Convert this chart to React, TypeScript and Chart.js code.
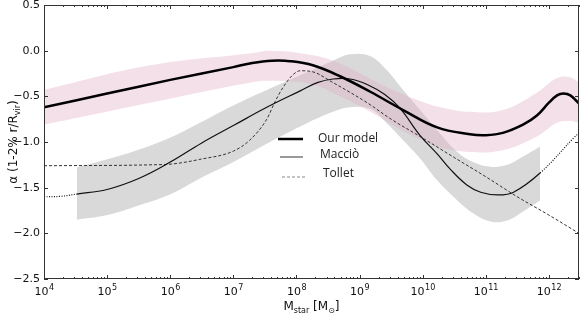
import React, { useEffect, useRef } from 'react';
import { Chart, registerables } from 'chart.js';

Chart.register(...registerables);

// ---- axis ranges (x is log10 of stellar mass) ----
const X_MIN = 4;
const X_MAX = Math.log10(3e12);
const Y_MIN = -2.5;
const Y_MAX = 0.5;

const xTickExponents = [4, 5, 6, 7, 8, 9, 10, 11, 12];
const yTickValues = [-2.5, -2.0, -1.5, -1.0, -0.5, 0.0, 0.5];

// ---- Our model (thick line) ----
const modelLogM = [4.0, 5.0, 6.0, 7.0, 7.3, 7.61, 7.9, 8.26, 8.69, 9.17, 9.69, 10.23, 10.75, 11.0, 11.27, 11.59, 11.81, 12.0, 12.13, 12.23, 12.34, 12.477];
const modelAlpha = [-0.62, -0.47, -0.32, -0.18, -0.135, -0.11, -0.115, -0.16, -0.28, -0.45, -0.65, -0.84, -0.915, -0.925, -0.9, -0.81, -0.71, -0.57, -0.49, -0.47, -0.49, -0.58];

// ---- Our model band (pink) ----
const pinkLogM = [4.0, 5.68, 7.26, 7.61, 8.26, 8.69, 9.17, 9.69, 9.96, 10.23, 10.75, 11.27, 11.81, 12.13, 12.34, 12.477];
const pinkUpper = [-0.43, -0.16, -0.03, 0.0, -0.05, -0.14, -0.31, -0.48, -0.55, -0.61, -0.67, -0.65, -0.46, -0.3, -0.29, -0.35];
const pinkLower = [-0.81, -0.57, -0.35, -0.33, -0.37, -0.5, -0.67, -0.88, -0.97, -1.05, -1.11, -1.09, -0.94, -0.79, -0.77, -0.79];

// ---- Macciò (thin line; dotted outside its fitted range) ----
const maccioLogM = [4.0, 4.26, 4.52, 5.0, 5.5, 6.0, 6.5, 7.0, 7.53, 8.06, 8.33, 8.58, 8.85, 9.12, 9.4, 9.64, 9.96, 10.23, 10.44, 10.7, 10.92, 11.19, 11.44, 11.86, 12.4, 12.477];
const maccioAlpha = [-1.6, -1.595, -1.57, -1.52, -1.4, -1.22, -1.01, -0.82, -0.62, -0.44, -0.35, -0.31, -0.31, -0.37, -0.48, -0.63, -0.93, -1.13, -1.3, -1.47, -1.55, -1.58, -1.55, -1.34, -0.95, -0.9];
const maccioFitMin = 4.52;
const maccioFitMax = 11.86;

// ---- Macciò band (gray) ----
const grayLogM = [4.52, 5.0, 5.52, 6.04, 6.47, 7.0, 7.53, 8.06, 8.58, 8.85, 9.17, 9.44, 9.69, 9.96, 10.23, 10.55, 10.8, 11.07, 11.34, 11.59, 11.86];
const grayUpper = [-1.28, -1.19, -1.08, -0.94, -0.79, -0.6, -0.43, -0.27, -0.11, -0.04, -0.06, -0.22, -0.43, -0.65, -0.87, -1.11, -1.22, -1.27, -1.25, -1.16, -1.05];
const grayLower = [-1.85, -1.8, -1.69, -1.56, -1.4, -1.22, -1.02, -0.83, -0.67, -0.62, -0.64, -0.8, -0.98, -1.18, -1.42, -1.64, -1.78, -1.87, -1.86, -1.76, -1.64];

// ---- Tollet (dashed) ----
const tolletLogM = [4.0, 5.68, 6.04, 6.47, 7.0, 7.26, 7.53, 7.66, 7.79, 7.95, 8.06, 8.25, 8.58, 9.12, 9.5, 9.96, 10.5, 11.0, 11.5, 12.0, 12.477];
const tolletAlpha = [-1.26, -1.25, -1.24, -1.19, -1.1, -0.98, -0.75, -0.56, -0.4, -0.26, -0.22, -0.23, -0.35, -0.57, -0.75, -0.94, -1.17, -1.38, -1.6, -1.8, -2.0];

const legendLabels = ['Our model', 'Macciò', 'Tollet'];

const pts = (xs: number[], ys: number[]) => xs.map((x, i) => ({ x, y: ys[i] }));

const tickFont = '11px "DejaVu Sans"';
const supFont = '8px "DejaVu Sans"';
const titleFont = '12px "DejaVu Sans"';
const subFont = '8px "DejaVu Sans"';
const legendFont = '12px "Open Sans"';

const mplAxes = {
  id: 'mplAxes',
  afterDatasetsDraw(chart: any) {
    const { ctx, chartArea: a, scales } = chart;
    const xs = scales.x;
    const ys = scales.y;
    ctx.save();

    // frame
    ctx.strokeStyle = '#333';
    ctx.lineWidth = 1;
    ctx.setLineDash([]);
    ctx.strokeRect(a.left + 0.5, a.top + 0.5, a.right - a.left - 1, a.bottom - a.top - 1);

    // x ticks (major + minor), inward on bottom and top
    ctx.beginPath();
    for (let n = X_MIN; n <= 12; n++) {
      for (let k = 1; k <= 9; k++) {
        const v = n + Math.log10(k);
        if (v > X_MAX) continue;
        const px = Math.round(xs.getPixelForValue(v)) + 0.5;
        const len = k === 1 ? 4 : 2;
        ctx.moveTo(px, a.bottom);
        ctx.lineTo(px, a.bottom - len);
        ctx.moveTo(px, a.top);
        ctx.lineTo(px, a.top + len);
      }
    }
    // y ticks, inward on left and right
    for (const v of yTickValues) {
      const py = Math.round(ys.getPixelForValue(v)) + 0.5;
      ctx.moveTo(a.left, py);
      ctx.lineTo(a.left + 4, py);
      ctx.moveTo(a.right, py);
      ctx.lineTo(a.right - 4, py);
    }
    ctx.stroke();

    // y tick labels
    ctx.fillStyle = '#111';
    ctx.font = tickFont;
    ctx.textAlign = 'right';
    ctx.textBaseline = 'middle';
    for (const v of yTickValues) {
      const py = ys.getPixelForValue(v);
      ctx.fillText(v.toFixed(1).replace('-', '\u2212'), a.left - 4, py);
    }

    // x tick labels: 10^n
    ctx.textBaseline = 'alphabetic';
    ctx.textAlign = 'left';
    for (const e of xTickExponents) {
      const px = xs.getPixelForValue(e);
      ctx.font = tickFont;
      const wb = ctx.measureText('10').width;
      ctx.font = supFont;
      const es = String(e);
      const we = ctx.measureText(es).width;
      const x0 = px - (wb + we) / 2;
      ctx.font = tickFont;
      ctx.fillText('10', x0, 295);
      ctx.font = supFont;
      ctx.fillText(es, x0 + wb + 0.5, 290);
    }

    // x axis title: M_star [M_sun]
    {
      const parts: [string, string, number][] = [
        ['M', titleFont, 0],
        ['star', subFont, 3],
        [' [M', titleFont, 0],
        ['\u2299', subFont, 3],
        [']', titleFont, 0],
      ];
      let total = 0;
      for (const [t, f] of parts) { ctx.font = f; total += ctx.measureText(t).width; }
      let x = (a.left + a.right) / 2 - total / 2;
      for (const [t, f, dy] of parts) {
        ctx.font = f;
        ctx.fillText(t, x, 310 + dy);
        x += ctx.measureText(t).width;
      }
    }

    // y axis title: α (1-2% r/R_vir)
    {
      ctx.save();
      ctx.translate(17, (a.top + a.bottom) / 2);
      ctx.rotate(-Math.PI / 2);
      const parts: [string, string, number][] = [
        ['\u03b1 (1-2% r/R', titleFont, 0],
        ['vir', subFont, 3],
        [')', titleFont, 0],
      ];
      let total = 0;
      for (const [t, f] of parts) { ctx.font = f; total += ctx.measureText(t).width; }
      let x = -total / 2;
      for (const [t, f, dy] of parts) {
        ctx.font = f;
        ctx.fillText(t, x, 0 + dy);
        x += ctx.measureText(t).width;
      }
      ctx.restore();
    }

    // legend inside plot
    const items = [
      { ds: chart.data.datasets[0], x0: 278, x1: 303, y: 139, tx: 318, ty: 139 },
      { ds: chart.data.datasets[1], x0: 280, x1: 303, y: 157, tx: 320, ty: 155 },
      { ds: chart.data.datasets[2], x0: 282, x1: 305, y: 177, tx: 323, ty: 174 },
    ];
    items.forEach((it, i) => {
      ctx.beginPath();
      ctx.strokeStyle = i === 1 ? '#555' : i === 2 ? '#888' : it.ds.borderColor;
      ctx.lineWidth = it.ds.borderWidth;
      ctx.setLineDash(it.ds.borderDash || []);
      ctx.moveTo(it.x0, it.y);
      ctx.lineTo(it.x1, it.y);
      ctx.stroke();
      ctx.setLineDash([]);
      ctx.fillStyle = '#222';
      ctx.font = legendFont;
      ctx.textAlign = 'left';
      ctx.textBaseline = 'middle';
      ctx.fillText(legendLabels[i], it.tx, it.ty);
    });

    ctx.restore();
  },
};

export default function App() {
  const ref = useRef<HTMLCanvasElement | null>(null);

  useEffect(() => {
    document.body.style.margin = '0';
    const canvas = ref.current;
    if (!canvas) return;
    const smooth = { pointRadius: 0, fill: false, tension: 0.4 };
    const mono = { pointRadius: 0, fill: false, cubicInterpolationMode: 'monotone' as const };
    const chart = new Chart(canvas, {
      type: 'line',
      data: {
        datasets: [
          {
            ...smooth,
            label: legendLabels[0],
            data: pts(modelLogM, modelAlpha),
            borderColor: '#000',
            borderWidth: 2.5,
            order: 0,
          },
          {
            ...smooth,
            label: legendLabels[1],
            data: pts(maccioLogM, maccioAlpha),
            borderColor: '#111',
            borderWidth: 1.2,
            order: 0,
            segment: {
              borderDash: (c: any) =>
                c.p1.parsed.x <= maccioFitMin + 1e-6 || c.p0.parsed.x >= maccioFitMax - 1e-6 ? [1, 1.5] : undefined,
            },
          },
          {
            ...mono,
            label: legendLabels[2],
            data: pts(tolletLogM, tolletAlpha),
            borderColor: '#333',
            borderWidth: 1,
            borderDash: [3, 2],
            order: 0,
          },
          {
            ...smooth,
            label: 'gray upper',
            data: pts(grayLogM, grayUpper),
            borderWidth: 0,
            borderColor: 'rgba(0,0,0,0)',
            order: 2,
          },
          {
            ...smooth,
            label: 'gray lower',
            data: pts(grayLogM, grayLower),
            borderWidth: 0,
            borderColor: 'rgba(0,0,0,0)',
            backgroundColor: 'rgb(217,217,217)',
            fill: 3,
            order: 2,
          },
          {
            ...smooth,
            label: 'pink upper',
            data: pts(pinkLogM, pinkUpper),
            borderWidth: 0,
            borderColor: 'rgba(0,0,0,0)',
            order: 1,
          },
          {
            ...smooth,
            label: 'pink lower',
            data: pts(pinkLogM, pinkLower),
            borderWidth: 0,
            borderColor: 'rgba(0,0,0,0)',
            backgroundColor: 'rgba(222,170,195,0.36)',
            fill: 5,
            order: 1,
          },
        ],
      },
      options: {
        animation: false,
        responsive: false,
        events: [],
        layout: { padding: { top: 5, right: 2, left: 0, bottom: 0 } },
        plugins: {
          legend: { display: false },
          tooltip: { enabled: false },
          filler: { propagate: false },
        },
        scales: {
          x: {
            type: 'linear',
            min: X_MIN,
            max: X_MAX,
            grid: { display: false, drawTicks: false },
            border: { display: false },
            ticks: { display: false },
            afterFit: (s: any) => { s.height = 36; },
          },
          y: {
            type: 'linear',
            min: Y_MIN,
            max: Y_MAX,
            grid: { display: false, drawTicks: false },
            border: { display: false },
            ticks: { display: false },
            afterFit: (s: any) => { s.width = 44; },
          },
        },
      },
      plugins: [mplAxes],
    });
    return () => chart.destroy();
  }, []);

  return (
    <div style={{ width: 581, height: 315 }}>
      <canvas ref={ref} width={581} height={315} style={{ display: 'block', width: 581, height: 315 }} />
    </div>
  );
}
